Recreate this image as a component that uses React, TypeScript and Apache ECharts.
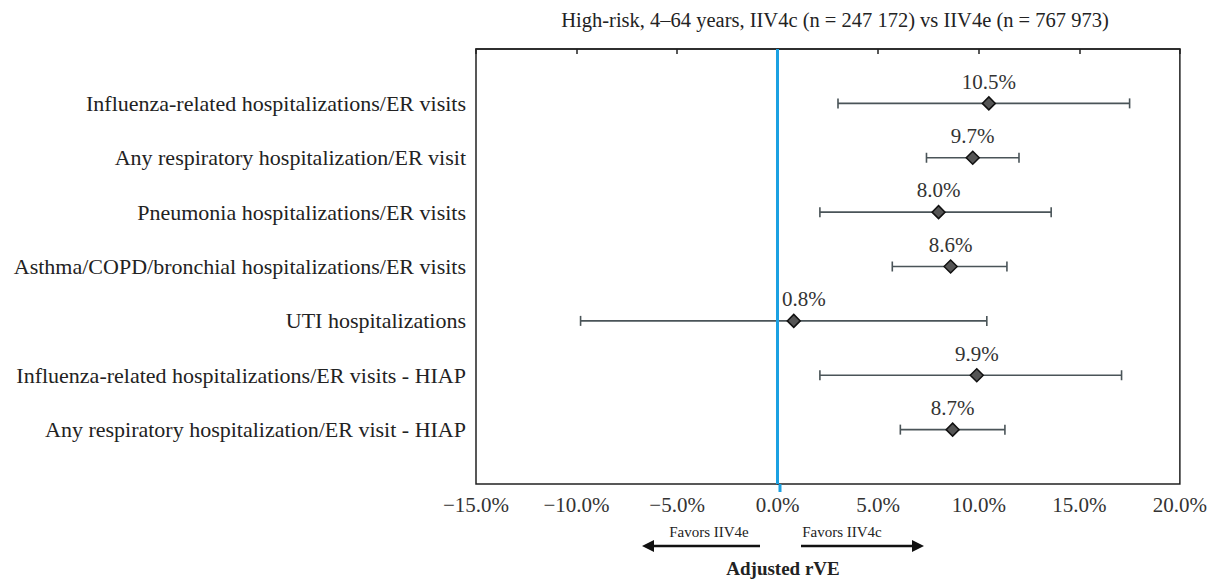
import React, { useEffect, useRef } from "react";
import * as echarts from "echarts";

const categories = [
  "Influenza-related hospitalizations/ER visits",
  "Any respiratory hospitalization/ER visit",
  "Pneumonia hospitalizations/ER visits",
  "Asthma/COPD/bronchial hospitalizations/ER visits",
  "UTI hospitalizations",
  "Influenza-related hospitalizations/ER visits - HIAP",
  "Any respiratory hospitalization/ER visit - HIAP",
];
const estimates = [10.5, 9.7, 8.0, 8.6, 0.8, 9.9, 8.7];
const lowerCI = [3.0, 7.4, 2.1, 5.7, -9.8, 2.1, 6.1];
const upperCI = [17.5, 12.0, 13.6, 11.4, 10.4, 17.1, 11.3];
const xTicks = { min: -15, max: 20, step: 5 };
const title = "High-risk, 4\u201364 years, IIV4c (n = 247 172) vs IIV4e (n = 767 973)";
const xAxisTitle = "Adjusted rVE";
const favorsLeft = "Favors IIV4e";
const favorsRight = "Favors IIV4c";

const FONT = "'Liberation Serif', 'DejaVu Serif', serif";

export default function App() {
  const ref = useRef<HTMLDivElement>(null);
  useEffect(() => {
    document.body.style.margin = "0";
    const chart = echarts.init(ref.current!, null, { renderer: "svg" });
    const errData = categories.map((_, i) => [i + 1, lowerCI[i], upperCI[i]]);
    const ptData = categories.map((_, i) => ({
      value: [estimates[i], i + 1],
      label: i === 4 ? { offset: [10, 0] } : undefined,
    }));
    chart.setOption({
      animation: false,
      textStyle: { fontFamily: FONT },
      title: {
        text: title,
        left: 830,
        textAlign: "center",
        top: 4,
        textStyle: { fontFamily: FONT, fontSize: 20.5, fontWeight: "normal", color: "#222" },
      },
      grid: {
        left: 476,
        right: 23,
        top: 49,
        bottom: 97,
        show: true,
        borderColor: "#222",
        borderWidth: 1.5,
        containLabel: false,
      },
      xAxis: {
        type: "value",
        min: xTicks.min,
        max: xTicks.max,
        interval: xTicks.step,
        axisLine: { show: true, lineStyle: { color: "#222", width: 1.5 } },
        axisTick: { show: true, length: 5, lineStyle: { color: "#222", width: 1.5 } },
        splitLine: { show: false },
        axisLabel: {
          margin: 10,
          fontFamily: FONT,
          fontSize: 21,
          color: "#333",
          formatter: (v: number) => (v < 0 ? "\u2212" : "") + Math.abs(v).toFixed(1) + "%",
        },
      },
      yAxis: {
        type: "value",
        inverse: true,
        min: 0,
        max: categories.length + 1,
        interval: 1,
        axisLine: { show: true, lineStyle: { color: "#222", width: 1.5 } },
        axisTick: { show: false },
        splitLine: { show: false },
        axisLabel: {
          margin: 10,
          fontFamily: FONT,
          fontSize: 22,
          color: "#222",
          formatter: (v: number) => categories[v - 1] ?? "",
        },
      },
      series: [
        {
          type: "custom",
          data: errData,
          encode: { x: [1, 2], y: 0 },
          z: 2,
          renderItem: (params: any, api: any) => {
            const y = api.value(0);
            const lo = api.coord([api.value(1), y]);
            const hi = api.coord([api.value(2), y]);
            const h = 5;
            const style = { stroke: "#4a5458", lineWidth: 1.6 };
            return {
              type: "group",
              children: [
                { type: "line", shape: { x1: lo[0], y1: lo[1], x2: hi[0], y2: hi[1] }, style },
                { type: "line", shape: { x1: lo[0], y1: lo[1] - h, x2: lo[0], y2: lo[1] + h }, style },
                { type: "line", shape: { x1: hi[0], y1: hi[1] - h, x2: hi[0], y2: hi[1] + h }, style },
              ],
            };
          },
        },
        {
          type: "scatter",
          data: ptData,
          z: 3,
          symbol: "diamond",
          symbolSize: [13, 13],
          itemStyle: { color: "#555", borderColor: "#111", borderWidth: 1.5, opacity: 1 },
          label: {
            show: true,
            position: "top",
            distance: 4,
            fontFamily: FONT,
            fontSize: 21,
            color: "#333",
            formatter: (p: any) => p.value[0].toFixed(1) + "%",
          },
          markLine: {
            silent: true,
            symbol: "none",
            label: { show: false },
            lineStyle: { color: "#1ba1e2", width: 3, type: "solid" },
            data: [{ xAxis: 0 }],
          },
        },
      ],
      graphic: [
        {
          type: "line",
          shape: { x1: 780, y1: 484, x2: 780, y2: 492 },
          style: { stroke: "#1ba1e2", lineWidth: 3 },
        },
        {
          type: "text",
          x: 709,
          y: 532,
          style: { text: favorsLeft, font: `15px ${FONT}`, fill: "#222", align: "center", verticalAlign: "middle" },
        },
        {
          type: "text",
          x: 842,
          y: 532,
          style: { text: favorsRight, font: `15px ${FONT}`, fill: "#222", align: "center", verticalAlign: "middle" },
        },
        {
          type: "line",
          shape: { x1: 760, y1: 546, x2: 652, y2: 546 },
          style: { stroke: "#111", lineWidth: 2.5 },
        },
        {
          type: "polygon",
          shape: { points: [[642, 546], [654, 540], [654, 552]] },
          style: { fill: "#111" },
        },
        {
          type: "line",
          shape: { x1: 801, y1: 546, x2: 914, y2: 546 },
          style: { stroke: "#111", lineWidth: 2.5 },
        },
        {
          type: "polygon",
          shape: { points: [[924, 546], [912, 540], [912, 552]] },
          style: { fill: "#111" },
        },
        {
          type: "text",
          x: 783,
          y: 568,
          style: {
            text: xAxisTitle,
            font: `bold 19px ${FONT}`,
            fill: "#222",
            align: "center",
            verticalAlign: "middle",
          },
        },
      ],
    });
    return () => chart.dispose();
  }, []);
  return <div ref={ref} style={{ width: 1210, height: 581 }} />;
}
